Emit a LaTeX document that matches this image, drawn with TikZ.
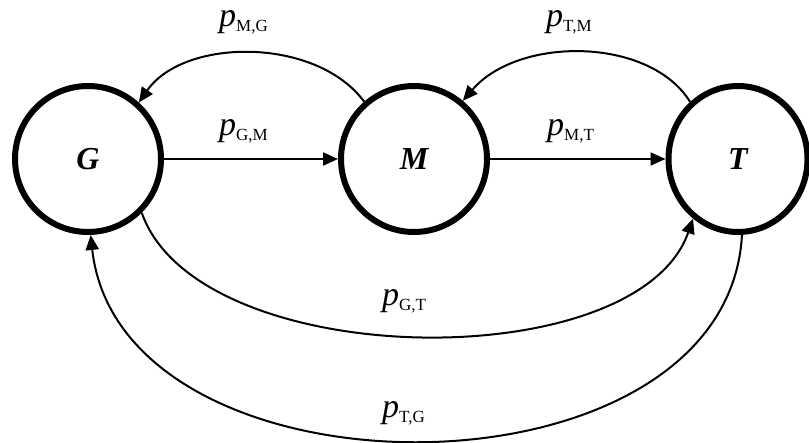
\documentclass[tikz,border=0pt]{standalone}
\usepackage{fontspec}
\setmainfont{Liberation Serif}
\usetikzlibrary{arrows.meta,shapes.geometric}
\newcommand\plab[1]{\textit{p}\raisebox{-4.5pt}{\fontsize{17}{17}\selectfont #1}}
\begin{document}
\begin{tikzpicture}[x=1pt,y=-1pt,
  state/.style={circle,draw,line width=6pt,minimum size=146pt,inner sep=0pt,
    font=\fontsize{32}{32}\selectfont\bfseries\itshape},
  conn/.style={line width=2pt,-{Triangle[length=15pt,width=13pt]}},
  lab/.style={anchor=base west,inner sep=0pt,text height=16pt,text depth=8pt,
    font=\fontsize{34}{34}\selectfont}]
\useasboundingbox (0,0) rectangle (809,443);
\node[state] (G) at (88,159) {G};
\node[state] (M) at (414,159) {M};
\node[state,ellipse,minimum width=139pt,minimum height=146pt] (T) at (738,159) {T};
% straight arrows
\draw[conn] (G.east) -- (M.west);
\draw[conn] (M.east) -- (T.west);
% top arcs
\draw[conn] (M.131) .. controls +(-48,-65) and +(45,-65) .. (G.48);
\draw[conn] (T.130) .. controls +(-40,-65) and +(56,-65) .. (M.50);
% bottom arcs
\draw[conn] (G.-45) .. controls +(56,160) and +(-56,160) .. (T.233);
\draw[conn] (T.273) .. controls +(-15,274) and +(30,274) .. (G.272);
% labels
\node[lab] (lMG) at (219,27) {\plab{M,G}};
\node[lab] (lTM) at (546,27) {\plab{T,M}};
\node[lab] (lGM) at (219,136) {\plab{G,M}};
\node[lab] (lMT) at (547,136) {\plab{M,T}};
\node[lab] (lGT) at (382,306) {\plab{G,T}};
\node[lab] (lTG) at (382,418) {\plab{T,G}};
\end{tikzpicture}
\end{document}
